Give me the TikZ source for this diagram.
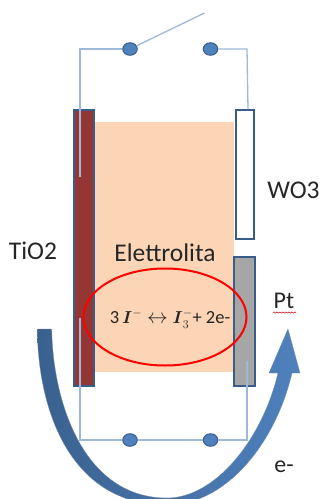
\documentclass[tikz,border=0pt]{standalone}
\usepackage{amsmath}
\usepackage{fontspec}
\setmainfont{Carlito}
\usetikzlibrary{decorations.pathmorphing,shapes.geometric}
\definecolor{edgeblue}{HTML}{385D8A}
\definecolor{fillblue}{HTML}{4F81BD}
\definecolor{wire}{HTML}{9DB8D8}
\definecolor{tio}{HTML}{943634}
\definecolor{elec}{HTML}{FBD5B5}
\definecolor{arrowdark}{HTML}{3A618F}
\tikzset{
  x=1pt,y=-1pt,
  bar/.style={draw=edgeblue,line width=2pt,inner sep=0pt,anchor=north west},
  terminal/.style={ellipse,draw=edgeblue,fill=fillblue,line width=1pt,inner sep=0pt,minimum width=14.5pt,minimum height=12.5pt},
  wireline/.style={draw=wire,line width=1.3pt},
  txt/.style={font=\fontsize{25.5}{28}\selectfont,text=black!85,inner sep=0pt}
}
\begin{document}
\begin{tikzpicture}
\useasboundingbox (0,0) rectangle (324,499);
\clip (0,0) rectangle (324,499);
\node[fill=elec,inner sep=0pt,anchor=north west,minimum width=140pt,minimum height=250pt] (elettrolita) at (93.5,122) {};
\node[bar,fill=tio,minimum width=20pt,minimum height=276pt] (tio2) at (73,109) {};
\node[bar,fill=white,minimum width=18pt,minimum height=129pt] (wo3) at (234.5,109) {};
\node[bar,fill=black!35,minimum width=21pt,minimum height=129pt] (pt) at (233,256) {};
\node[terminal] (tl) at (130,49) {};
\node[terminal] (tr) at (210.5,49) {};
\node[terminal] (bl) at (130,440) {};
\node[terminal] (br) at (210.5,440) {};
\coordinate (swend) at (204.5,13);
\coordinate (wl) at (80,177);
\coordinate (wr) at (248,109);
\coordinate (bwl) at (80,318);
\coordinate (bwr) at (247,361);
\draw[wireline] (wl) -- (80,49) -- (tl);
\draw[wireline] (tl) -- (swend);
\draw[wireline] (tr) -- (247,49) -- (wr);
\draw[wireline] (bwl) -- (80,440) -- (bl);
\draw[wireline] (bl) -- (br);
\draw[wireline] (br) -- (bwr |- br) -- (bwr);
\node[ellipse,draw=red,line width=2pt,minimum width=163pt,minimum height=97pt,inner sep=0pt] (ring) at (165,317) {};
\node[font=\fontsize{18.5}{20}\selectfont,text=black!85,inner sep=0pt] (eq) at (170,319) {3\,$\boldsymbol{I}^{-}\mathrel{\scalebox{1.2}{$\leftrightarrow$}}\boldsymbol{I}_{3}^{-}$+ 2e-};
\path[left color=arrowdark,right color=fillblue,draw=edgeblue!70,line width=.3pt]
  (37.3,329) .. controls (38,410) and (70,505) .. (167,505)
  .. controls (225,505) and (275,445) .. (292,373)
  -- (300,373) -- (288,329) -- (269,373) -- (278,373)
  .. controls (262,440) and (215,498) .. (167,498)
  .. controls (85,498) and (53,405) .. (51.7,329) -- cycle;
\node[txt] (l1) at (293.5,190) {WO3};
\node[txt] (l2) at (33,251) {TiO2};
\node[txt] (l3) at (165,253) {Elettrolita};
\node[font=\fontsize{24}{26}\selectfont,text=black!85,inner sep=0pt] (l4) at (284,301) {Pt};
\node[font=\fontsize{24}{26}\selectfont,text=black!85,inner sep=0pt] (l5) at (284,467) {e-};
\draw[red!80!black,line width=.5pt,decorate,decoration={snake,amplitude=.6pt,segment length=3pt}] (273,312.5) -- (296,312.5);
\end{tikzpicture}
\end{document}
